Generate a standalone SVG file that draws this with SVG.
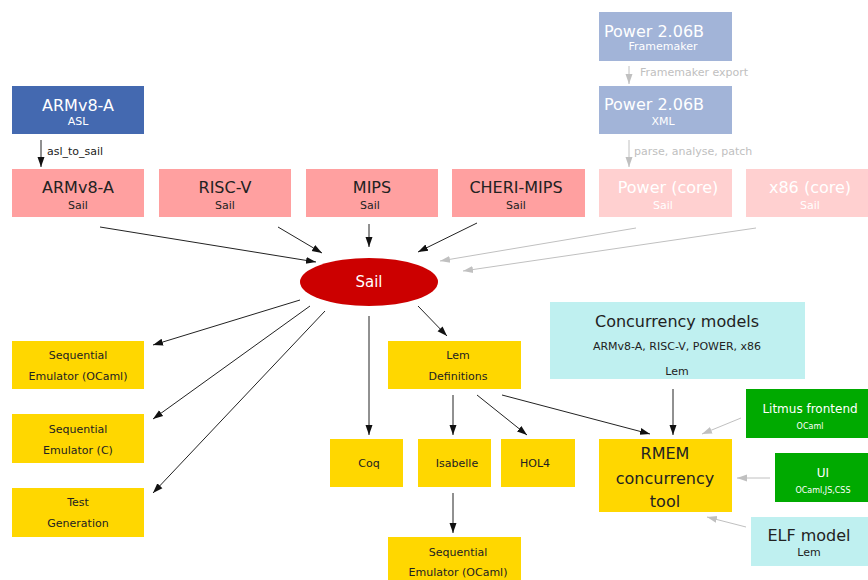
<svg xmlns="http://www.w3.org/2000/svg" width="868" height="580" viewBox="0 0 868 580">
<style>
text{font-family:"DejaVu Sans","Liberation Sans",sans-serif;text-anchor:middle}
.t{font-size:16px}
.s{font-size:11px}
.y{font-size:11px;fill:#222}
.dk{fill:#222}
.w{fill:#fff}
.e{stroke:#222;stroke-width:1;fill:none}
.g{stroke:#c0c0c0;stroke-width:1;fill:none}
.lbl{font-size:11px;text-anchor:start}
</style>
<defs>
<marker id="ab" viewBox="0 0 10 10" refX="10" refY="5" markerWidth="10" markerHeight="10" markerUnits="userSpaceOnUse" orient="auto"><path d="M0,1.5 L10,5 L0,8.5 z" fill="#111"/></marker>
<marker id="ag" viewBox="0 0 10 10" refX="10" refY="5" markerWidth="10" markerHeight="10" markerUnits="userSpaceOnUse" orient="auto"><path d="M0,1.5 L10,5 L0,8.5 z" fill="#c0c0c0"/></marker>
</defs>
<rect width="868" height="580" fill="#fff"/>
<g id="connectors">
<line class="e" x1="41" y1="140" x2="41" y2="167" marker-end="url(#ab)"/>
<text class="lbl dk" x="47" y="155">asl_to_sail</text>
<line class="g" x1="629" y1="66" x2="629" y2="84" marker-end="url(#ag)"/>
<text class="lbl" x="640" y="76" fill="#c0c0c0">Framemaker export</text>
<line class="g" x1="629" y1="140" x2="629" y2="167" marker-end="url(#ag)"/>
<text class="lbl" x="634" y="155" fill="#c0c0c0">parse, analyse, patch</text>
<line class="e" x1="100" y1="227" x2="316" y2="262" marker-end="url(#ab)"/>
<line class="e" x1="278" y1="227" x2="322" y2="253" marker-end="url(#ab)"/>
<line class="e" x1="369" y1="224" x2="369" y2="247" marker-end="url(#ab)"/>
<line class="e" x1="477" y1="223" x2="418" y2="252" marker-end="url(#ab)"/>
<line class="g" x1="636" y1="228" x2="440" y2="261" marker-end="url(#ag)"/>
<line class="g" x1="756" y1="228" x2="463" y2="271" marker-end="url(#ag)"/>
<line class="e" x1="300" y1="300" x2="153" y2="345" marker-end="url(#ab)"/>
<line class="e" x1="310" y1="306" x2="153" y2="419" marker-end="url(#ab)"/>
<line class="e" x1="325" y1="311" x2="153" y2="493" marker-end="url(#ab)"/>
<line class="e" x1="369" y1="316" x2="369" y2="435" marker-end="url(#ab)"/>
<line class="e" x1="418" y1="306" x2="447" y2="336" marker-end="url(#ab)"/>
<line class="e" x1="453" y1="395" x2="453" y2="435" marker-end="url(#ab)"/>
<line class="e" x1="477" y1="395" x2="527" y2="435" marker-end="url(#ab)"/>
<line class="e" x1="453" y1="493" x2="453" y2="533" marker-end="url(#ab)"/>
<line class="e" x1="502" y1="395" x2="650" y2="434" marker-end="url(#ab)"/>
<line class="e" x1="673" y1="389" x2="673" y2="435" marker-end="url(#ab)"/>
<line class="g" x1="741" y1="418" x2="702" y2="434" marker-end="url(#ag)"/>
<line class="g" x1="770" y1="478" x2="737" y2="478" marker-end="url(#ag)"/>
<line class="g" x1="746" y1="527" x2="707" y2="517" marker-end="url(#ag)"/>
</g>
<g id="armasl"><rect x="12" y="86" width="132" height="48" fill="#4469b0"/><text class="t w" x="78" y="111">ARMv8-A</text><text class="s w" x="78" y="125">ASL</text></g>
<g id="pwrfm"><rect x="599" y="12" width="133" height="49" fill="#a2b4d8"/><text class="t w" x="654" y="37">Power 2.06B</text><text class="s w" x="663" y="50">Framemaker</text></g>
<g id="pwrxml"><rect x="599" y="86" width="133" height="48" fill="#a2b4d8"/><text class="t w" x="654" y="110">Power 2.06B</text><text class="s w" x="663" y="125">XML</text></g>
<g id="armsail"><rect x="12" y="169" width="132" height="48" fill="#ffa0a0"/><text class="t dk" x="78" y="193">ARMv8-A</text><text class="s dk" x="78" y="209">Sail</text></g>
<g id="riscv"><rect x="159" y="169" width="132" height="48" fill="#ffa0a0"/><text class="t dk" x="225" y="193">RISC-V</text><text class="s dk" x="225" y="209">Sail</text></g>
<g id="mips"><rect x="306" y="169" width="132" height="48" fill="#ffa0a0"/><text class="t dk" x="372" y="193">MIPS</text><text class="s dk" x="370" y="209">Sail</text></g>
<g id="cheri"><rect x="452" y="169" width="133" height="48" fill="#ffa0a0"/><text class="t dk" x="516" y="193">CHERI-MIPS</text><text class="s dk" x="516" y="209">Sail</text></g>
<g id="pwrcore"><rect x="599" y="169" width="133" height="48" fill="#ffd0d0"/><text class="t w" x="668" y="193">Power (core)</text><text class="s w" x="663" y="209">Sail</text></g>
<g id="x86"><rect x="746" y="169" width="132" height="48" fill="#ffd0d0"/><text class="t w" x="810" y="193">x86 (core)</text><text class="s w" x="810" y="209">Sail</text></g>
<g id="sail"><ellipse cx="369" cy="282" rx="69" ry="24" fill="#cc0000"/><text class="w" x="369" y="287" font-size="15">Sail</text></g>
<g id="seqocaml"><rect x="12" y="341" width="132" height="48" fill="#ffd700"/><text class="y" x="78" y="359">Sequential</text><text class="y" x="78" y="380">Emulator (OCaml)</text></g>
<g id="seqc"><rect x="12" y="414" width="132" height="49" fill="#ffd700"/><text class="y" x="78" y="433">Sequential</text><text class="y" x="78" y="454">Emulator (C)</text></g>
<g id="testgen"><rect x="12" y="488" width="132" height="49" fill="#ffd700"/><text class="y" x="78" y="506">Test</text><text class="y" x="78" y="527">Generation</text></g>
<g id="lemdefs"><rect x="388" y="341" width="133" height="48" fill="#ffd700"/><text class="y" x="458" y="359">Lem</text><text class="y" x="458" y="380">Definitions</text></g>
<g id="coq"><rect x="330" y="439" width="73" height="48" fill="#ffd700"/><text class="y" x="369" y="467">Coq</text></g>
<g id="isabelle"><rect x="418" y="439" width="73" height="48" fill="#ffd700"/><text class="y" x="457" y="467">Isabelle</text></g>
<g id="hol4"><rect x="501" y="439" width="74" height="48" fill="#ffd700"/><text class="y" x="535" y="467">HOL4</text></g>
<g id="seqocaml2"><rect x="388" y="537" width="133" height="48" fill="#ffd700"/><text class="y" x="458" y="556">Sequential</text><text class="y" x="458" y="576">Emulator (OCaml)</text></g>
<g id="concmodels"><rect x="550" y="302" width="255" height="77" fill="#bff0f0"/><text class="dk" x="677" y="327" font-size="16">Concurrency models</text><text class="s dk" x="677" y="350">ARMv8-A, RISC-V, POWER, x86</text><text class="s dk" x="677" y="375">Lem</text></g>
<g id="rmem"><rect x="599" y="439" width="133" height="73" fill="#ffd700"/><text class="dk" x="665" y="459" font-size="16">RMEM</text><text class="dk" x="665" y="484" font-size="16">concurrency</text><text class="dk" x="665" y="507" font-size="16">tool</text></g>
<g id="litmus"><rect x="746" y="389" width="132" height="49" fill="#00aa00"/><text class="w" x="810" y="413" font-size="12">Litmus frontend</text><text class="w" x="810" y="429" font-size="8">OCaml</text></g>
<g id="ui"><rect x="775" y="453" width="103" height="49" fill="#00aa00"/><text class="w" x="823" y="477" font-size="12">UI</text><text class="w" x="823" y="493" font-size="8">OCaml,JS,CSS</text></g>
<g id="elf"><rect x="751" y="517" width="127" height="49" fill="#bff0f0"/><text class="dk" x="809" y="541" font-size="16">ELF model</text><text class="s dk" x="809" y="556">Lem</text></g>
</svg>
